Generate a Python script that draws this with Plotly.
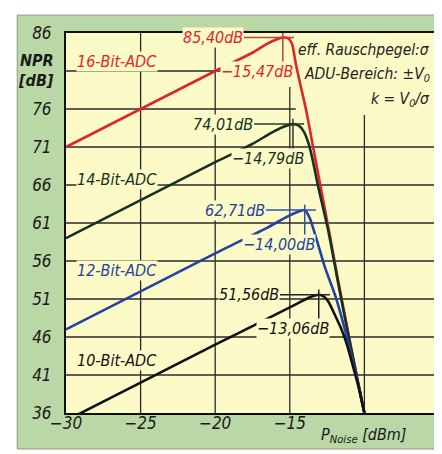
import plotly.graph_objects as go

# ---------------- data ----------------
x16 = [-30, -20, -17.5, -16.5, -15.9, -15.47, -15.1, -14.85, -14.6, -14.3, -13.9, -13.4, -12.9, -12.3, -11.7, -11.0, -10.5, -10.0]
y16 = [71, 81, 83.4, 84.6, 85.15, 85.4, 85.3, 84.6, 82.0, 79.3, 75.8, 70.6, 65.4, 59.2, 52.8, 45.7, 40.8, 36]

x14 = [-30, -20, -17.5, -16.3, -15.5, -14.79, -14.4, -14.05, -13.75, -13.5, -13.1, -12.4, -11.75, -11.05, -10.5, -10.0]
y14 = [59, 69, 71.4, 72.8, 73.6, 74.01, 73.8, 73.0, 71.5, 69.6, 65.8, 59.8, 53.0, 46.0, 40.7, 36]

x12 = [-30, -20, -16.5, -15.2, -14.5, -14.0, -13.65, -13.2, -12.65, -11.93, -11.18, -10.56, -10.0]
y12 = [47, 57, 60.4, 61.8, 62.45, 62.71, 61.6, 58.8, 55.2, 51.3, 46.0, 41.0, 36]

x10 = [-30, -20, -16, -14.5, -13.7, -13.06, -12.7, -12.4, -12.0, -11.6, -11.2, -10.8, -10.4, -10.0]
y10 = [35, 45, 48.9, 50.4, 51.2, 51.56, 51.3, 50.6, 49.0, 47.3, 45.2, 42.4, 39.5, 36]

series_names = ["16-Bit-ADC", "14-Bit-ADC", "12-Bit-ADC", "10-Bit-ADC"]
label_y = [82.3, 66.7, 54.7, 42.9]
peak_x = [-15.47, -14.79, -14.00, -13.06]
peak_y = [85.40, 74.01, 62.71, 51.56]
peak_x_text = ["−15,47dB", "−14,79dB", "−14,00dB", "−13,06dB"]
peak_y_text = ["85,40dB", "74,01dB", "62,71dB", "51,56dB"]

x_tickvals = [-30, -25, -20, -15, -5]
x_ticktext = ["−30", "−25", "−20", "−15", "−5"]
y_tickvals = [36, 41, 46, 51, 56, 61, 66, 71, 76, 86]
y_ticktext = ["36", "41", "46", "51", "56", "61", "66", "71", "76", "86"]
grid_x = [-25, -20, -15, -10]
grid_y = [41, 46, 51, 56, 61, 66, 71, 76, 81]

# ---------------- styles ----------------
colors = ["#e1232b", "#15321f", "#2343a3", "#111111"]
mark_colors = ["#b8453a", "#2a3a2a", "#3050a8", "#222222"]
FONT = "DejaVu Sans Condensed, Liberation Sans Narrow, sans-serif"
YELLOW = "#fcfac6"
GREEN = "#b9d8a5"
FS = 16

fig = go.Figure()

for xs, ys, c in zip([x16, x14, x12, x10], [y16, y14, y12, y10], colors):
    fig.add_trace(go.Scatter(x=xs, y=ys, mode="lines",
                             line=dict(color=c, width=2.6, shape="spline", smoothing=0.6),
                             hoverinfo="skip", showlegend=False))

shapes = []
# green frame and yellow plot area
shapes.append(dict(type="rect", xref="paper", yref="paper", x0=-0.1307, x1=1.016, y0=-0.0947, y1=1.047,
                   fillcolor=GREEN, line=dict(color="#889a84", width=1), layer="below"))
shapes.append(dict(type="rect", xref="paper", yref="paper", x0=0, x1=1, y0=0, y1=1,
                   fillcolor=YELLOW, line=dict(width=0), layer="below"))
# grid lines
for gx in grid_x:
    shapes.append(dict(type="line", xref="x", yref="paper", x0=gx, x1=gx, y0=0, y1=1,
                       line=dict(color="#2a2a2a", width=1.3), layer="below"))
for gy in grid_y:
    shapes.append(dict(type="line", xref="paper", yref="y", x0=0, x1=1, y0=gy, y1=gy,
                       line=dict(color="#2a2a2a", width=1.3), layer="below"))
# area of the text box hides the grid
shapes.append(dict(type="rect", xref="x", yref="y", x0=-15.15, x1=-5, y0=78.9, y1=86,
                   fillcolor=YELLOW, line=dict(width=0), layer="between"))
shapes.append(dict(type="rect", xref="x", yref="y", x0=-14.6, x1=-5, y0=75.2, y1=86,
                   fillcolor=YELLOW, line=dict(width=0), layer="between"))

annotations = []
for i in range(4):
    px, py, mc, c = peak_x[i], peak_y[i], mark_colors[i], colors[i]
    # crosshair
    shapes.append(dict(type="line", xref="x", yref="y", x0=px - 2.6, x1=px + 0.75, y0=py, y1=py,
                       line=dict(color=mc, width=1.5)))
    shapes.append(dict(type="line", xref="x", yref="y", x0=px, x1=px, y0=py + 0.7, y1=py - 3.6,
                       line=dict(color=mc, width=1.5)))
    annotations.append(dict(x=px - 2.62, y=py, xref="x", yref="y", text=peak_y_text[i],
                            showarrow=False, xanchor="right", yanchor="middle",
                            font=dict(family=FONT, size=FS, color=c, style="italic"),
                            bgcolor=YELLOW, borderpad=0))
    annotations.append(dict(x=px + 0.78, y=py - 4.5, xref="x", yref="y", text=peak_x_text[i],
                            showarrow=False, xanchor="right", yanchor="middle",
                            font=dict(family=FONT, size=FS, color=c, style="italic"),
                            bgcolor=YELLOW, borderpad=0))
    annotations.append(dict(x=-29.35, y=label_y[i], xref="x", yref="y", text=series_names[i],
                            showarrow=False, xanchor="left", yanchor="middle",
                            font=dict(family=FONT, size=FS, color=c, style="italic"),
                            bgcolor=YELLOW, borderpad=0))

# info box
info_lines = ["eff. Rauschpegel:σ", "ADU-Bereich: ±V<sub>0</sub>", "k = V<sub>0</sub>/σ"]
info_y = [83.7, 80.5, 77.2]
for t, yy in zip(info_lines, info_y):
    annotations.append(dict(x=-5.45, y=yy, xref="x", yref="y", text=t, showarrow=False,
                            xanchor="right", yanchor="middle",
                            font=dict(family=FONT, size=15.5, color="#222222", style="italic")))

# axis titles
annotations.append(dict(x=-0.027, y=(405 - 52) / 380, xref="paper", yref="paper", text="<b>NPR</b>",
                        showarrow=False, xanchor="right", yanchor="middle",
                        font=dict(family=FONT, size=FS, color="#1a1a1a", style="italic")))
annotations.append(dict(x=-0.027, y=(405 - 72) / 380, xref="paper", yref="paper", text="<b>[dB]</b>",
                        showarrow=False, xanchor="right", yanchor="middle",
                        font=dict(family=FONT, size=FS, color="#1a1a1a", style="italic")))
annotations.append(dict(x=-7.05, y=-0.058, xref="x", yref="paper",
                        text="P<sub>Noise</sub> [dBm]", showarrow=False,
                        xanchor="right", yanchor="middle",
                        font=dict(family=FONT, size=FS, color="#1a1a1a", style="italic")))

fig.update_layout(
    width=442, height=454,
    margin=dict(l=58, r=9, t=25, b=49),
    paper_bgcolor="white", plot_bgcolor="rgba(0,0,0,0)",
    shapes=shapes, annotations=annotations,
    font=dict(family=FONT, size=FS, color="#1a1a1a", style="italic"),
    xaxis=dict(range=[-30, -5], tickvals=x_tickvals, ticktext=x_ticktext, showgrid=False,
               zeroline=False, showline=True, linecolor="#111", linewidth=2, mirror=True,
               ticks="", ticklabelstandoff=-6, tickfont=dict(size=17)),
    yaxis=dict(range=[36, 86], tickvals=y_tickvals, ticktext=y_ticktext, showgrid=False,
               zeroline=False, showline=True, linecolor="#111", linewidth=2, mirror=True,
               ticks="", ticklabelstandoff=9, tickfont=dict(size=17)),
)

fig.write_html("out.html")
